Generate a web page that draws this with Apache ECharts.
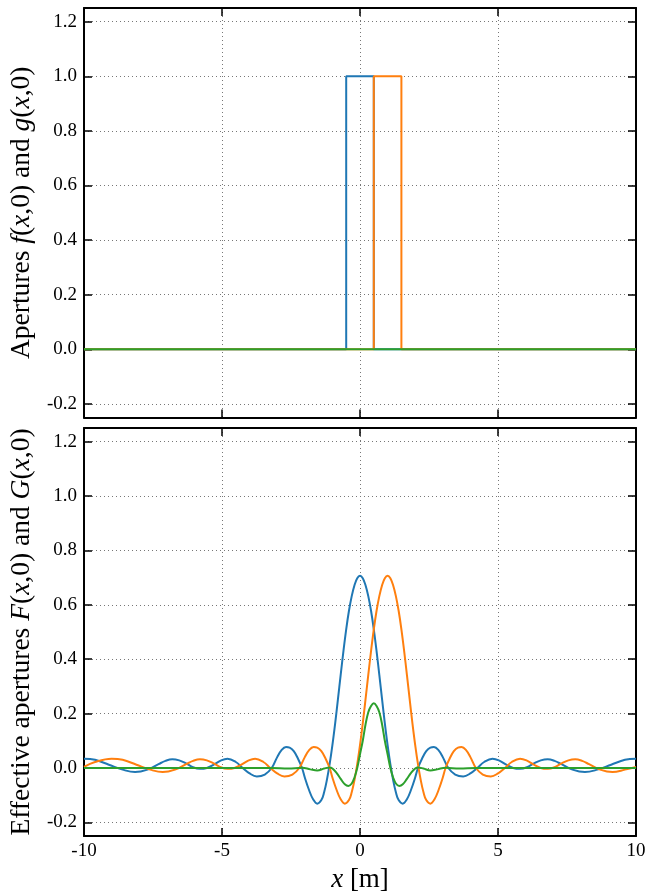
<!DOCTYPE html>
<html>
<head>
<meta charset="utf-8">
<script src="https://cdn.jsdelivr.net/npm/echarts@6/dist/echarts.min.js"></script>
<style>
html,body{margin:0;padding:0;background:#fff;}
#chart{width:652px;height:894px;}
</style>
</head>
<body>
<div id="chart"></div>
<script>
// ---- Top panel: apertures ----
var apertureFX = [-10, -0.5, -0.5, 0.5, 0.5, 10];
var apertureFY = [0, 0, 1, 1, 0, 0];
var apertureGX = [-10, 0.5, 0.5, 1.5, 1.5, 10];
var apertureGY = [0, 0, 1, 1, 0, 0];
var apertureProdX = [-10, 10];
var apertureProdY = [0, 0];

// ---- Bottom panel: effective apertures ----
var effFX = [-10, -9.6, -9.1, -8.6, -8.15, -7.7, -7.3, -7.05, -6.8, -6.55, -6.3, -6.05, -5.8, -5.55, -5.3, -5.05, -4.8, -4.5, -4.25, -4.0, -3.74, -3.45, -3.2, -3.0, -2.85, -2.68, -2.55, -2.4, -2.25, -2.1, -2.0, -1.85, -1.7, -1.55,
             -1.4, -1.3, -1.2, -1.1, -1.0, -0.9, -0.8, -0.7, -0.6, -0.5, -0.4, -0.3, -0.2, -0.1, 0,
             0.1, 0.2, 0.3, 0.4, 0.5, 0.6, 0.7, 0.8, 0.9, 1.0, 1.1, 1.2, 1.3, 1.4,
             1.55, 1.7, 1.85, 2.0, 2.1, 2.25, 2.4, 2.55, 2.68, 2.85, 3.0, 3.2, 3.45, 3.74, 4.0, 4.25, 4.5, 4.8, 5.05, 5.3, 5.55, 5.8, 6.05, 6.3, 6.55, 6.8, 7.05, 7.3, 7.7, 8.15, 8.6, 9.1, 9.6, 10];
var effFY = [0.034, 0.03, 0.012, -0.006, -0.015, -0.006, 0.014, 0.026, 0.032, 0.028, 0.017, 0.003, -0.003, 0.0, 0.012, 0.027, 0.034, 0.022, 0.0, -0.02, -0.031, -0.024, 0.0, 0.04, 0.065, 0.077, 0.075, 0.062, 0.035, 0.0, -0.035, -0.08, -0.115, -0.131,
             -0.118, -0.089, -0.044, 0.014, 0.084, 0.164, 0.252, 0.342, 0.430, 0.510, 0.578, 0.632, 0.672, 0.698, 0.707,
             0.698, 0.672, 0.632, 0.578, 0.510, 0.430, 0.342, 0.252, 0.164, 0.084, 0.014, -0.044, -0.089, -0.118,
             -0.131, -0.115, -0.08, -0.035, 0.0, 0.035, 0.062, 0.075, 0.077, 0.065, 0.04, 0.0, -0.024, -0.031, -0.02, 0.0, 0.022, 0.034, 0.027, 0.012, 0.0, -0.003, 0.003, 0.017, 0.028, 0.032, 0.026, 0.014, -0.006, -0.015, -0.006, 0.012, 0.03, 0.034];

var effGX = [-10, -9.6, -9.0, -8.6, -8.1, -7.6, -7.15, -6.7, -6.3, -6.05, -5.8, -5.55, -5.3, -5.05, -4.8, -4.55, -4.3, -4.05, -3.8, -3.5, -3.25, -3.0, -2.74, -2.45, -2.2, -2.0, -1.85, -1.68, -1.55, -1.4, -1.25, -1.1, -1.0, -0.85, -0.7, -0.55,
             -0.4, -0.3, -0.2, -0.1, 0.0, 0.1, 0.2, 0.3, 0.4, 0.5, 0.6, 0.7, 0.8, 0.9, 1.0,
             1.1, 1.2, 1.3, 1.4, 1.5, 1.6, 1.7, 1.8, 1.9, 2.0, 2.1, 2.2, 2.3, 2.4,
             2.55, 2.7, 2.85, 3.0, 3.1, 3.25, 3.4, 3.55, 3.68, 3.85, 4.0, 4.2, 4.45, 4.74, 5.0, 5.25, 5.5, 5.8, 6.05, 6.3, 6.55, 6.8, 7.05, 7.3, 7.55, 7.8, 8.05, 8.3, 8.7, 9.15, 9.6, 10];
var effGY = [0.004, 0.022, 0.034, 0.03, 0.012, -0.006, -0.015, -0.006, 0.014, 0.026, 0.032, 0.028, 0.017, 0.003, -0.003, 0.0, 0.012, 0.027, 0.034, 0.022, 0.0, -0.02, -0.031, -0.024, 0.0, 0.04, 0.065, 0.077, 0.075, 0.062, 0.035, 0.0, -0.035, -0.08, -0.115, -0.131,
             -0.118, -0.089, -0.044, 0.014, 0.084, 0.164, 0.252, 0.342, 0.430, 0.510, 0.578, 0.632, 0.672, 0.698, 0.707,
             0.698, 0.672, 0.632, 0.578, 0.510, 0.430, 0.342, 0.252, 0.164, 0.084, 0.014, -0.044, -0.089, -0.118,
             -0.131, -0.115, -0.08, -0.035, 0.0, 0.035, 0.062, 0.075, 0.077, 0.065, 0.04, 0.0, -0.024, -0.031, -0.02, 0.0, 0.022, 0.034, 0.027, 0.012, 0.0, -0.003, 0.003, 0.017, 0.028, 0.032, 0.026, 0.014, -0.006, -0.015, -0.006, 0.004];

var effProdX = [-10, -3.2, -2.6, -2.1, -1.8, -1.55, -1.3, -1.1, -1.0, -0.85, -0.7, -0.55, -0.42, -0.3, -0.2, -0.1, 0.0, 0.1, 0.2, 0.3, 0.4, 0.5,
                0.6, 0.7, 0.8, 0.9, 1.0, 1.1, 1.2, 1.3, 1.42, 1.55, 1.7, 1.85, 2.0, 2.1, 2.3, 2.55, 2.8, 3.1, 3.6, 4.2, 10];
var effProdY = [0, 0, -0.002, 0.001, -0.005, -0.009, -0.002, 0.002, -0.002, -0.018, -0.04, -0.06, -0.066, -0.057, -0.035, 0.0, 0.05, 0.1, 0.16, 0.205, 0.228, 0.238,
                0.228, 0.205, 0.16, 0.1, 0.05, 0.0, -0.035, -0.057, -0.066, -0.06, -0.04, -0.018, -0.002, 0.002, -0.002, -0.009, -0.005, 0.001, -0.002, 0, 0];

// ---- Tick labels ----
var xTicks = [-10, -5, 0, 5, 10];
var yTicks = [-0.2, 0.0, 0.2, 0.4, 0.6, 0.8, 1.0, 1.2];

function pairs(xs, ys) { return xs.map(function (x, i) { return [x, ys[i]]; }); }

var FONT = 'Liberation Serif';
var C_BLUE = '#1f77b4', C_ORANGE = '#ff7f0e', C_GREEN = '#2ca02c';

function xAxisDef(gridIndex, position, showLabels, showSplit, nameRich) {
  var ax = {
    type: 'value', gridIndex: gridIndex, position: position,
    min: -10, max: 10, interval: 5,
    axisLine: { show: true, onZero: false, lineStyle: { color: '#000', width: 2 } },
    axisTick: { show: true, inside: true, length: 8, lineStyle: { color: '#000', width: 1.5 } },
    axisLabel: { show: showLabels, margin: 6, color: '#000', fontFamily: FONT, fontSize: 19,
                 customValues: xTicks, formatter: function (v) { return String(v); } },
    splitLine: { show: showSplit, lineStyle: { color: '#777', width: 1, type: [1, 3] } }
  };
  if (nameRich) {
    ax.name = '{i|x} [m]';
    ax.nameLocation = 'middle';
    ax.nameGap = 30;
    ax.nameTextStyle = { color: '#000', fontFamily: FONT, fontSize: 27,
      rich: {
        n: { fontFamily: FONT, fontSize: 27, color: '#000' },
        i: { fontFamily: FONT, fontSize: 27, fontStyle: 'italic', color: '#000' } } };
  }
  return ax;
}

function yAxisDef(gridIndex, position, showLabels, showSplit, name) {
  var ax = {
    type: 'value', gridIndex: gridIndex, position: position,
    min: -0.25, max: 1.25,
    axisLine: { show: true, onZero: false, lineStyle: { color: '#000', width: 2 } },
    axisTick: { show: true, inside: true, length: 8, customValues: yTicks, lineStyle: { color: '#000', width: 1.5 } },
    axisLabel: { show: showLabels, margin: 7, color: '#000', fontFamily: FONT, fontSize: 19, customValues: yTicks,
                 formatter: function (v) { return v.toFixed(1); } },
    splitLine: { show: showSplit, customValues: yTicks, lineStyle: { color: '#777', width: 1, type: [1, 3] } }
  };
  if (name) {
    ax.name = name;
    ax.nameLocation = 'middle';
    ax.nameRotate = 90;
    ax.nameGap = 45;
    ax.nameTextStyle = { color: '#000', fontFamily: FONT, fontSize: 27.5,
      rich: {
        n: { fontFamily: FONT, fontSize: 27.5, color: '#000' },
        i: { fontFamily: FONT, fontSize: 27.5, fontStyle: 'italic', color: '#000' }
      } };
  }
  return ax;
}

function lineSeries(xi, yi, xs, ys, color, smooth) {
  return {
    type: 'line', xAxisIndex: xi, yAxisIndex: yi,
    data: pairs(xs, ys), showSymbol: false, symbol: 'none',
    smooth: smooth ? 0.4 : false,
    lineStyle: { color: color, width: 2 }, itemStyle: { color: color },
    animation: false, clip: true
  };
}

var chart = echarts.init(document.getElementById('chart'), null, { renderer: 'canvas' });
chart.setOption({
  backgroundColor: '#fff',
  animation: false,
  grid: [
    { left: 84, top: 8, width: 552, height: 409.6 },
    { left: 84, top: 428, width: 552, height: 409.6 }
  ],
  xAxis: [
    xAxisDef(0, 'bottom', false, true, false),
    xAxisDef(0, 'top', false, false, false),
    xAxisDef(1, 'bottom', true, true, true),
    xAxisDef(1, 'top', false, false, false)
  ],
  yAxis: [
    yAxisDef(0, 'left', true, true, '{n|Apertures }{i|f}{n|(}{i|x}{n|,0) and }{i|g}{n|(}{i|x}{n|,0)}'),
    yAxisDef(0, 'right', false, false, null),
    yAxisDef(1, 'left', true, true, '{n|Effective apertures }{i|F}{n|(}{i|x}{n|,0) and }{i|G}{n|(}{i|x}{n|,0)}'),
    yAxisDef(1, 'right', false, false, null)
  ],
  series: [
    lineSeries(0, 0, apertureFX, apertureFY, C_BLUE, false),
    lineSeries(0, 0, apertureGX, apertureGY, C_ORANGE, false),
    lineSeries(0, 0, apertureProdX, apertureProdY, C_GREEN, false),
    lineSeries(2, 2, effFX, effFY, C_BLUE, true),
    lineSeries(2, 2, effGX, effGY, C_ORANGE, true),
    lineSeries(2, 2, effProdX, effProdY, C_GREEN, true)
  ]
});
</script>
</body>
</html>
